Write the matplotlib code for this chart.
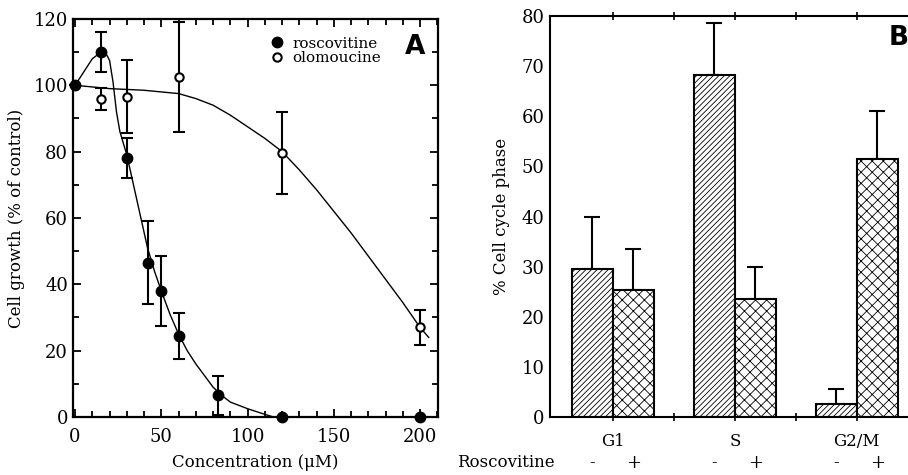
import numpy as np
import matplotlib
matplotlib.use("Agg")
import matplotlib.pyplot as plt
from matplotlib.ticker import MultipleLocator
from matplotlib.lines import Line2D
from matplotlib.transforms import blended_transform_factory

# ---- panel A data : cell growth vs concentration
ros_x = [0, 15, 30, 42, 50, 60, 83, 120, 200]
ros_y = [100, 110, 78, 46.5, 38, 24.5, 6.5, 0, 0]
ros_err = [0, 6, 6, 12.5, 10.5, 7, 6, 0, 0]

olo_x = [0, 15, 30, 60, 120, 200]
olo_y = [100, 96, 96.5, 102.5, 79.5, 27]
olo_err = [0, 3.3, 11, 16.5, 12.3, 5.2]

# fitted curves
ros_fit_x = [0, 5, 10, 15, 18, 20, 22, 24, 26, 28, 30, 33, 36, 39, 42, 46, 50,
             55, 60, 65, 70, 75, 80, 85, 90, 100, 110, 115]
ros_fit_y = [100, 104, 108, 110, 109.5, 107.5, 101, 92, 86, 82.5, 79, 72, 65, 58,
             51, 44, 38, 31, 25, 20, 16, 12.5, 9, 6.5, 4.5, 2.5, 0.8, 0]
olo_fit_x = [0, 20, 40, 60, 70, 80, 90, 100, 110, 120, 130, 140, 150, 160, 170,
             180, 190, 200, 205]
olo_fit_y = [100, 99, 98.5, 97.5, 96, 94, 91, 87.5, 84, 80, 74.5, 68.5, 62, 55.5,
             48.5, 41.5, 34.5, 27, 24]

# ---- panel B data : cell cycle phase
phases = ["G1", "S", "G2/M"]
ctrl = [29.5, 68.3, 2.7]
ctrl_err = [10.4, 10.4, 3.0]
rosc = [25.4, 23.5, 51.4]
rosc_err = [8.1, 6.4, 9.6]

plt.rcParams['font.family'] = ['DejaVu Serif']
plt.rcParams['hatch.linewidth'] = 0.6

fig = plt.figure(figsize=(9.08, 4.75), dpi=100)

# ================= panel A
ax = fig.add_axes([0.0804, 0.1221, 0.402, 0.838])
ax.plot(ros_fit_x, ros_fit_y, color='black', lw=1.0)
ax.plot(olo_fit_x, olo_fit_y, color='black', lw=1.0)
ax.errorbar(olo_x, olo_y, yerr=olo_err, fmt='o', color='black', mfc='white',
            mec='black', mew=1.5, ms=6, capsize=4, elinewidth=1.5, capthick=1.5,
            zorder=4, clip_on=False)
ax.errorbar(ros_x, ros_y, yerr=ros_err, fmt='o', color='black', ms=7.5,
            capsize=4, elinewidth=1.5, capthick=1.5, zorder=5, clip_on=False)

ax.set_xlim(-1.2, 210.4)
ax.set_ylim(0, 120)
ax.xaxis.set_major_locator(MultipleLocator(50))
ax.xaxis.set_minor_locator(MultipleLocator(10))
ax.yaxis.set_major_locator(MultipleLocator(20))
ax.yaxis.set_minor_locator(MultipleLocator(10))
ax.tick_params(which='both', direction='in', top=True, right=True, labelsize=13,
               width=1.3)
ax.tick_params(axis='x', which='both', pad=8)
ax.tick_params(which='major', length=6)
ax.tick_params(which='minor', length=4)
for s in ax.spines.values():
    s.set_linewidth(1.6)
ax.set_xlabel("Concentration (\u03bcM)", fontsize=12, labelpad=6)
ax.set_ylabel("Cell growth (% of control)", fontsize=12, labelpad=6)

handles = [Line2D([], [], marker='o', ls='', color='black', ms=7.5),
           Line2D([], [], marker='o', ls='', mfc='white', mec='black', mew=1.5, ms=6)]
ax.legend(handles, ['roscovitine', 'olomoucine'], loc='upper left',
          bbox_to_anchor=(0.505, 0.99), frameon=False, fontsize=11,
          handlelength=0.8, handletextpad=0.6, labelspacing=0.05)
ax.text(0.937, 0.93, "A", transform=ax.transAxes, fontsize=19,
        fontweight='bold', family='DejaVu Sans', ha='center', va='center')

# ================= panel B
bx = fig.add_axes([0.6057, 0.1215, 0.394, 0.8448])
pos = np.arange(1, len(phases) + 1)
w = 0.335
bx.bar(pos - w / 2, ctrl, width=w, color='white', edgecolor='black',
       hatch='//////', lw=1.5, zorder=2)
bx.bar(pos + w / 2, rosc, width=w, color='white', edgecolor='black',
       hatch='xxx', lw=1.5, zorder=2)
bx.errorbar(pos - w / 2, ctrl, yerr=[np.zeros(3), ctrl_err], fmt='none',
            ecolor='black', capsize=6, elinewidth=1.5, capthick=1.5, zorder=1)
bx.errorbar(pos + w / 2, rosc, yerr=[np.zeros(3), rosc_err], fmt='none',
            ecolor='black', capsize=6, elinewidth=1.5, capthick=1.5, zorder=1)

bx.set_xlim(0.484, 3.418)
bx.set_ylim(0, 80)
bx.set_xticks(np.arange(1, 3.01, 0.5))
bx.set_xticklabels(["G1", "", "S", "", "G2/M"])
bx.yaxis.set_major_locator(MultipleLocator(10))
bx.spines['right'].set_visible(False)
for s in ['left', 'bottom', 'top']:
    bx.spines[s].set_linewidth(1.5)
bx.tick_params(axis='y', direction='out', length=0, labelsize=13, pad=4)
bx.tick_params(axis='x', direction='inout', length=6, width=1.2, labelsize=12,
               top=True, pad=8)
bx.set_ylabel("% Cell cycle phase", fontsize=12, labelpad=8)
bx.text(0.975, 0.946, "B", transform=bx.transAxes, fontsize=19,
        fontweight='bold', family='DejaVu Sans', ha='center', va='center')

trans = blended_transform_factory(bx.transData, bx.transAxes)
bx.text(-0.26, -0.113, "Roscovitine", transform=bx.transAxes, fontsize=12,
        ha='left', va='center')
for p in pos:
    bx.text(p - w / 2, -0.113, "-", transform=trans, fontsize=12,
            ha='center', va='center')
    bx.text(p + w / 2, -0.113, "+", transform=trans, fontsize=13,
            ha='center', va='center')

fig.savefig("out.png", dpi=100)
